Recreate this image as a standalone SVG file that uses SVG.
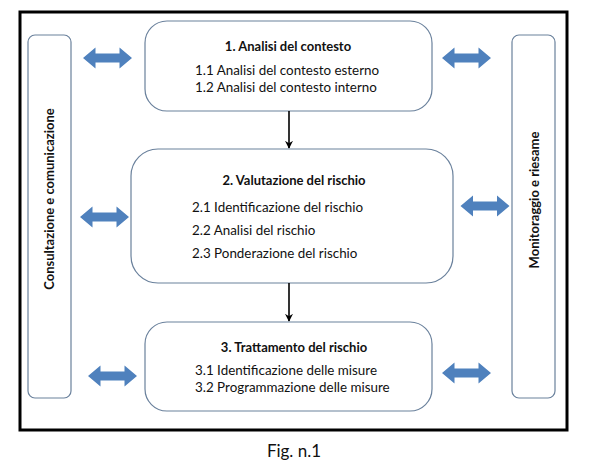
<svg xmlns="http://www.w3.org/2000/svg" width="592" height="466" viewBox="0 0 592 466">
<style>
.box{fill:#fff;stroke:#6a819c;stroke-width:1.2}
.t{font-family:Lato,"Liberation Sans",sans-serif;font-size:13.4px;fill:#111}
.b{font-weight:bold;font-size:13px}
.c{text-anchor:middle}
.con{stroke:#000;stroke-width:1.6;fill:none}
.blue{fill:#4f81bd}
</style>
<defs>
<path id="dbl" d="M-24.5 0 L-12 -10.5 L-12 -4.5 L12 -4.5 L12 -10.5 L24.5 0 L12 10.5 L12 4.5 L-12 4.5 L-12 10.5 Z"/>
<marker id="ah" viewBox="0 0 10 10" refX="9" refY="5" markerWidth="5" markerHeight="5" orient="auto" markerUnits="strokeWidth">
<path d="M0 0 L10 5 L0 10 L3 5 Z" fill="#000"/>
</marker>
</defs>
<rect width="592" height="466" fill="#fff"/>
<rect x="20" y="12" width="547" height="418" fill="none" stroke="#000" stroke-width="3"/>

<g id="side-left">
<rect class="box" x="28" y="35" width="43" height="363" rx="7"/>
<text class="t b c" transform="translate(54 199) rotate(-90)">Consultazione e comunicazione</text>
</g>
<g id="side-right">
<rect class="box" x="512" y="35" width="43" height="363" rx="7"/>
<text class="t b c" transform="translate(539 200) rotate(-90)">Monitoraggio e riesame</text>
</g>

<g id="box1">
<rect class="box" x="145" y="21" width="287" height="90" rx="22"/>
<text class="t b c" x="288" y="51">1. Analisi del contesto</text>
<text class="t" x="195" y="75">1.1 Analisi del contesto esterno</text>
<text class="t" x="195" y="92">1.2 Analisi del contesto interno</text>
</g>
<g id="box2">
<rect class="box" x="131" y="149" width="322" height="134" rx="27"/>
<text class="t b c" x="294" y="185">2. Valutazione del rischio</text>
<text class="t" x="192" y="212">2.1 Identificazione del rischio</text>
<text class="t" x="192" y="235">2.2 Analisi del rischio</text>
<text class="t" x="192" y="258">2.3 Ponderazione del rischio</text>
</g>
<g id="box3">
<rect class="box" x="145" y="322" width="287" height="89" rx="22"/>
<text class="t b c" x="294" y="352">3. Trattamento del rischio</text>
<text class="t" x="195" y="375">3.1 Identificazione delle misure</text>
<text class="t" x="195" y="392">3.2 Programmazione delle misure</text>
</g>

<g id="connectors">
<line class="con" x1="289" y1="111" x2="289" y2="148" marker-end="url(#ah)"/>
<line class="con" x1="289" y1="283" x2="289" y2="321" marker-end="url(#ah)"/>
<use href="#dbl" class="blue" x="107.5" y="58"/>
<use href="#dbl" class="blue" x="466.5" y="58"/>
<use href="#dbl" class="blue" x="104.5" y="217"/>
<use href="#dbl" class="blue" x="485" y="206"/>
<use href="#dbl" class="blue" x="112.5" y="376"/>
<use href="#dbl" class="blue" x="466.5" y="373"/>
</g>

<text class="t" x="294" y="457" text-anchor="middle" style="font-size:17px">Fig. n.1</text>
</svg>
